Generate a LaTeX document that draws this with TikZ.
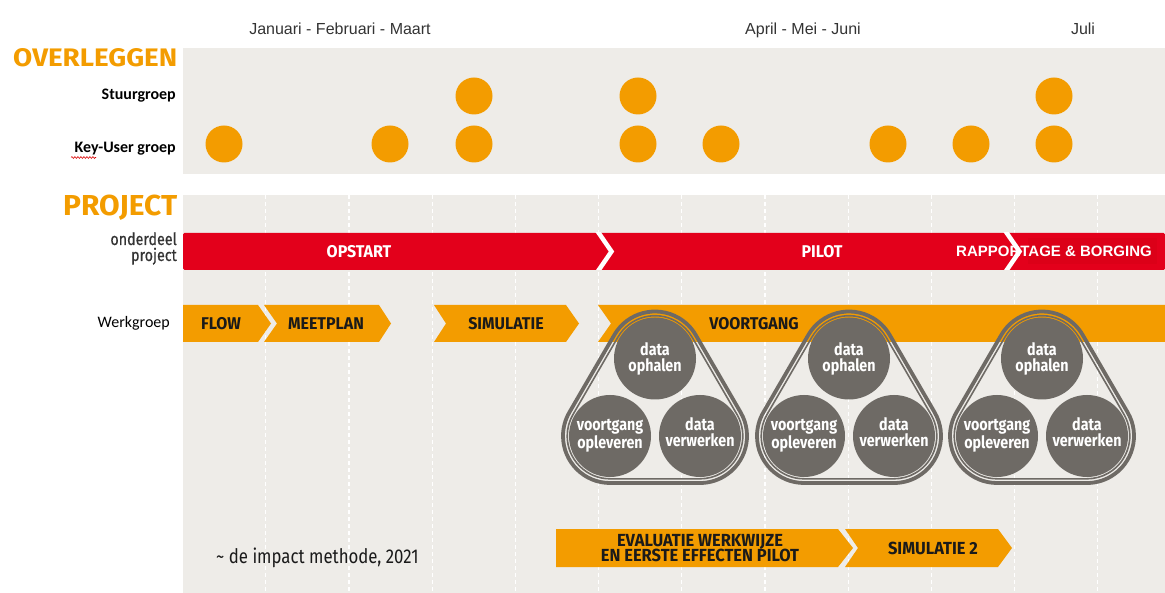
\documentclass[tikz,border=0pt]{standalone}
\usepackage{fontspec}
\setmainfont{Liberation Sans}
\newfontfamily\cond[FakeStretch=0.84]{Fira Sans}
\newfontfamily\condw[FakeStretch=0.94]{Fira Sans}
\newfontfamily\condmed[FakeStretch=0.84, FakeBold=0.6]{Fira Sans}
\newfontfamily\calib{Carlito}
\usetikzlibrary{decorations.pathmorphing}

\definecolor{panel}{HTML}{EEECE8}
\definecolor{accent}{HTML}{F39C00}
\definecolor{barred}{HTML}{E3001B}
\definecolor{boxred}{HTML}{DC0018}
\definecolor{cyclegray}{HTML}{6E6A65}
\definecolor{monthtext}{HTML}{333333}
\definecolor{tasktext}{HTML}{1A1A1A}
\definecolor{sidetext}{HTML}{333333}

% arrow-shaped bar: colour, left x, tip x, top y, bottom y, notch depth, tip depth
\newcommand\chevbar[7]{%
  \fill[#1] (#2,#4) -- ({#3-#7},#4) -- (#3,{(#4+#5)/2}) -- ({#3-#7},#5)
    -- (#2,#5) -- ({#2+#6},{(#4+#5)/2}) -- cycle;}

\tikzset{
  meet/.style={circle, fill=accent, minimum size=37pt, inner sep=0pt},
  monthlbl/.style={font=\fontsize{16}{18}\selectfont, text=monthtext, anchor=base, inner sep=0pt},
  rowlbl/.style={font=\calib\bfseries\fontsize{16}{18}\selectfont, anchor=base east, inner sep=0pt},
  phaselbl/.style={font=\condw\bfseries\fontsize{17}{18}\selectfont, text=white, inner sep=0pt},
  tasklbl/.style={font=\condw\bfseries\fontsize{17}{16}\selectfont, text=tasktext, inner sep=0pt, align=center},
  stepdisc/.style={circle, fill=cyclegray, minimum size=82pt, inner sep=0pt},
  steplbl/.style={font=\cond\bfseries\fontsize{17}{16}\selectfont, text=white, inner sep=0pt, align=center},
  sidelbl/.style={anchor=base east, inner sep=0pt, text=sidetext, font=\condmed\fontsize{17}{18}\selectfont},
  gridline/.style={white, line width=1.2pt, dash pattern=on 4pt off 3pt},
  loopline/.style={draw=cyclegray},
}

\begin{document}
\begin{tikzpicture}[x=1pt, y=-1pt]
\useasboundingbox (0,0) rectangle (1165,593);

% panels
\fill[panel] (183,48) rectangle (1165,174);
\fill[panel] (183,195) rectangle (1165,593);
\foreach \k in {0,...,10}
  \draw[gridline] ({265.7+83.2*\k},195) -- ({265.7+83.2*\k},593);

% month headings
\node[monthlbl] (m1) at (340,35) {Januari - Februari - Maart};
\node[monthlbl] (m2) at (803,35) {April - Mei - Juni};
\node[monthlbl] (m3) at (1083,35) {Juli};

% section titles
\node[anchor=base west, inner sep=0pt, text=accent] (overleggen) at (13,66.7)
  {\resizebox{164pt}{18pt}{\cond\bfseries OVERLEGGEN}};
\node[anchor=base west, inner sep=0pt, text=accent] (project) at (63,215.5)
  {\resizebox{114pt}{20.5pt}{\cond\bfseries PROJECT}};

% meeting rows
\node[rowlbl] (stuur) at (176,100) {Stuurgroep};
\node[rowlbl] (keyuser) at (176,153) {Key-User groep};
\draw[red!85!black, line width=0.6pt, decorate,
      decoration={snake, amplitude=0.9pt, segment length=3pt}] (71,157.5) -- (96,157.5);

\foreach \x [count=\i] in {474,638,1054}
  \node[meet] (s\i) at (\x,96) {};
\foreach \x [count=\i] in {224,390,474,638,721,888,971,1054}
  \node[meet] (k\i) at (\x,144) {};

% project phases
\node[sidelbl] (onderdeel) at (177,245) {onderdeel};
\node[sidelbl] (projectlbl) at (177,261) {project};
\fill[barred, rounded corners=1.5pt] (183,233) rectangle (1165,270);
\fill[boxred] (1028,238) rectangle (1157,264);
\node[font=\bfseries\fontsize{15}{16}\selectfont, text=white, inner sep=0pt]
  (rapport) at (1054,251.5) {RAPPORTAGE \& BORGING};
\begin{scope}
  \clip (183,233) rectangle (1165,270);
  \draw[white, line width=4.5pt, line join=miter] (596,229) -- (611.5,251.5) -- (596,274);
  \draw[white, line width=4.5pt, line join=miter] (1004,229) -- (1019.5,251.5) -- (1004,274);
\end{scope}
\node[phaselbl] (opstart) at (359,251.5) {OPSTART};
\node[phaselbl] (pilot) at (822,251.5) {PILOT};

% work group tasks
\node[anchor=base east, inner sep=0pt, font=\calib\fontsize{16}{18}\selectfont]
  (werkgroep) at (170,328) {Werkgroep};
\chevbar{accent}{183}{271}{305}{342}{0}{13}
\chevbar{accent}{264}{391}{305}{342}{13}{12}
\chevbar{accent}{434}{579}{305}{342}{12}{13}
\chevbar{accent}{598}{1165}{305}{342}{13}{0}
\node[tasklbl] (flow) at (221,323.5) {FLOW};
\node[tasklbl] (meetplan) at (326,323.5) {MEETPLAN};
\node[tasklbl] (simulatie) at (506,323.5) {SIMULATIE};
\node[tasklbl] (voortgang) at (754,323.5) {VOORTGANG};

% progress cycles
\foreach \cx [count=\i] in {655,849,1042} {
  \draw[loopline, line width=3.8pt] (\cx,358.5) ++(-150:47)
    arc[start angle=-150, end angle=-30, radius=47] -- ++(45,77.5)
    arc[start angle=-30, end angle=90, radius=47] -- ++(-90,0)
    arc[start angle=90, end angle=210, radius=47] -- cycle;
  \draw[loopline, line width=1.6pt] (\cx,358.5) ++(-150:42.8)
    arc[start angle=-150, end angle=-30, radius=42.8] -- ++(45,77.5)
    arc[start angle=-30, end angle=90, radius=42.8] -- ++(-90,0)
    arc[start angle=90, end angle=210, radius=42.8] -- cycle;
  \node[stepdisc] (top\i) at (\cx,358.5) {};
  \node[stepdisc] (left\i) at ({\cx-45},436) {};
  \node[stepdisc] (right\i) at ({\cx+45},436) {};
  \node[steplbl] (toplbl\i) at (top\i.center) {data\\ophalen};
  \node[steplbl] (leftlbl\i) at (left\i.center) {voortgang\\opleveren};
  \node[steplbl, yshift=4pt] (rightlbl\i) at (right\i.center) {data\\verwerken};
}

% evaluation tasks
\chevbar{accent}{556}{853}{529}{567}{0}{15}
\chevbar{accent}{845}{1012}{529}{567}{13}{14}
\node[tasklbl, font=\condw\bfseries\fontsize{17.5}{15.7}\selectfont] (evaluatie) at (700,548)
  {EVALUATIE WERKWIJZE\\EN EERSTE EFFECTEN PILOT};
\node[tasklbl, font=\condw\bfseries\fontsize{17.5}{16}\selectfont] (simulatie2) at (933,548.5) {SIMULATIE 2};

% source
\node[anchor=base west, inner sep=0pt, text=tasktext, font=\cond\fontsize{20}{21}\selectfont]
  (bron) at (216,563) {\textasciitilde\ de impact methode, 2021};
\end{tikzpicture}
\end{document}
